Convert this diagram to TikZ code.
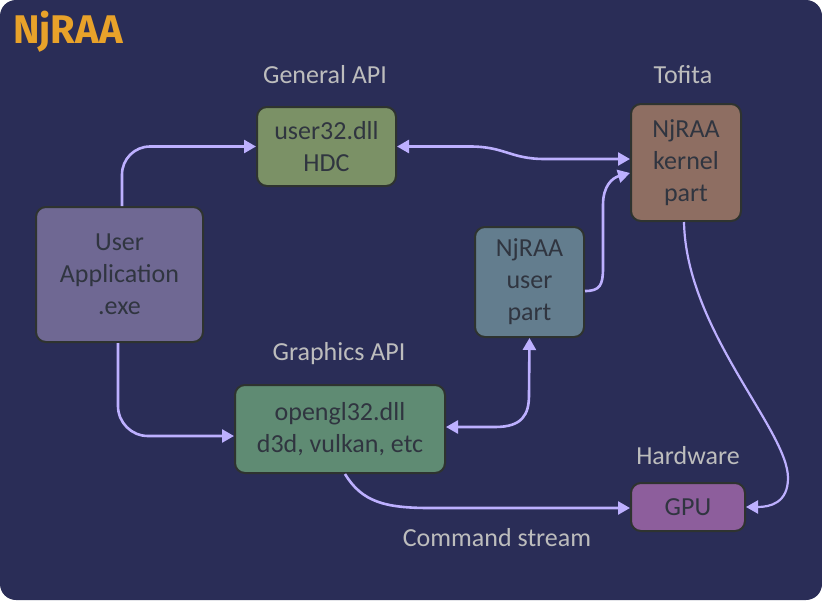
\documentclass[tikz,border=0pt]{standalone}
\usepackage{fontspec}
\setmainfont{Carlito}
\newfontfamily\logofont{Fira Sans}
\usetikzlibrary{arrows.meta}
\definecolor{bgc}{HTML}{2A2D57}
\definecolor{arrc}{HTML}{BDB0FF}
\definecolor{labc}{HTML}{BDBDBD}
\definecolor{txtc}{HTML}{303540}
\definecolor{edgec}{HTML}{2E3330}
\definecolor{fuser}{HTML}{7B9166}
\definecolor{ftofita}{HTML}{8E6E62}
\definecolor{fapp}{HTML}{6F6893}
\definecolor{fupart}{HTML}{637D8E}
\definecolor{fogl}{HTML}{5F8B73}
\definecolor{fgpu}{HTML}{8D5E9C}
\definecolor{logoc}{HTML}{E8A22A}
\tikzset{
  box/.style={draw=edgec, line width=2pt, rounded corners=10pt, text=txtc,
    align=center, inner sep=0pt, font=\fontsize{26}{32}\selectfont},
  lab/.style={text=labc, anchor=base, inner sep=0pt, font=\fontsize{26}{32}\selectfont},
  arr/.style={draw=arrc, line width=2.6pt, -{Triangle[length=12pt,width=13pt]}},
  arrb/.style={draw=arrc, line width=2.6pt, {Triangle[length=12pt,width=13pt]}-{Triangle[length=12pt,width=13pt]}}
}
\begin{document}
\begin{tikzpicture}[x=1pt,y=-1pt]
\useasboundingbox (0,0) rectangle (822,600);
\fill[bgc, rounded corners=16pt] (0,0) rectangle (822,600);

\node[text=logoc, anchor=base west, inner sep=0pt, font=\logofont\bfseries\fontsize{40}{40}\selectfont] (logo) at (13,43) {NjRAA};

\node[box, fill=fuser, minimum width=139pt, minimum height=79pt] (user32) at (326.5,146.5) {user32.dll\\HDC};
\node[box, fill=ftofita, minimum width=110pt, minimum height=117pt] (tofita) at (686,162.5) {NjRAA\\kernel\\part};
\node[box, fill=fapp, minimum width=167pt, minimum height=135pt] (app) at (119.5,274.5) {User\\Application\\.exe};
\node[box, fill=fupart, minimum width=109pt, minimum height=110pt] (upart) at (529.5,282) {NjRAA\\user\\part};
\node[box, fill=fogl, minimum width=210pt, minimum height=88pt] (ogl) at (340,429) {opengl32.dll\\d3d, vulkan, etc};
\node[box, fill=fgpu, minimum width=114pt, minimum height=48pt] (gpu) at (688,507) {GPU};

\node[lab] (lgen) at (325,83) {General API};
\node[lab] (ltof) at (683,83) {Tofita};
\node[lab] (lgfx) at (339,360) {Graphics API};
\node[lab] (lhw) at (688,464) {Hardware};
\node[lab] (lcmd) at (497,546) {Command stream};

% App -> user32
\draw[arr, rounded corners=28pt] ([xshift=2.5pt]app.north) |- (user32.west);
% App -> opengl
\draw[arr, rounded corners=30pt] ([xshift=-1.5pt]app.south) |- ([yshift=-7pt]ogl.west);
% user32 <-> tofita
\draw[arrb] (user32.east) -- (470,146.5) .. controls (505,146.5) and (510,159) .. (545,159) -- ([yshift=3.5pt]tofita.west);
% upart -> tofita
\draw[arr] ([yshift=-9pt]upart.east) .. controls (600,291) and (603,285) .. (603,268) -- (603,205) .. controls (603,186) and (612,178) .. ([yshift=-10.5pt]tofita.west);
% opengl <-> upart
\draw[arrb] ([yshift=2pt]ogl.east) -- (495,427) .. controls (522,427) and (529,415) .. (529,395) -- (upart.south);
% opengl -> gpu
\draw[arr] ([xshift=5pt]ogl.south) .. controls (362,502) and (385,508) .. (430,508) -- ([yshift=-1pt]gpu.west);
% tofita -> gpu
\draw[arr, line width=2.2pt] ([xshift=-2pt]tofita.south) .. controls (686,330) and (788,430) .. (788,478) .. controls (788,503) and (770,507) .. (gpu.east);
\end{tikzpicture}
\end{document}
